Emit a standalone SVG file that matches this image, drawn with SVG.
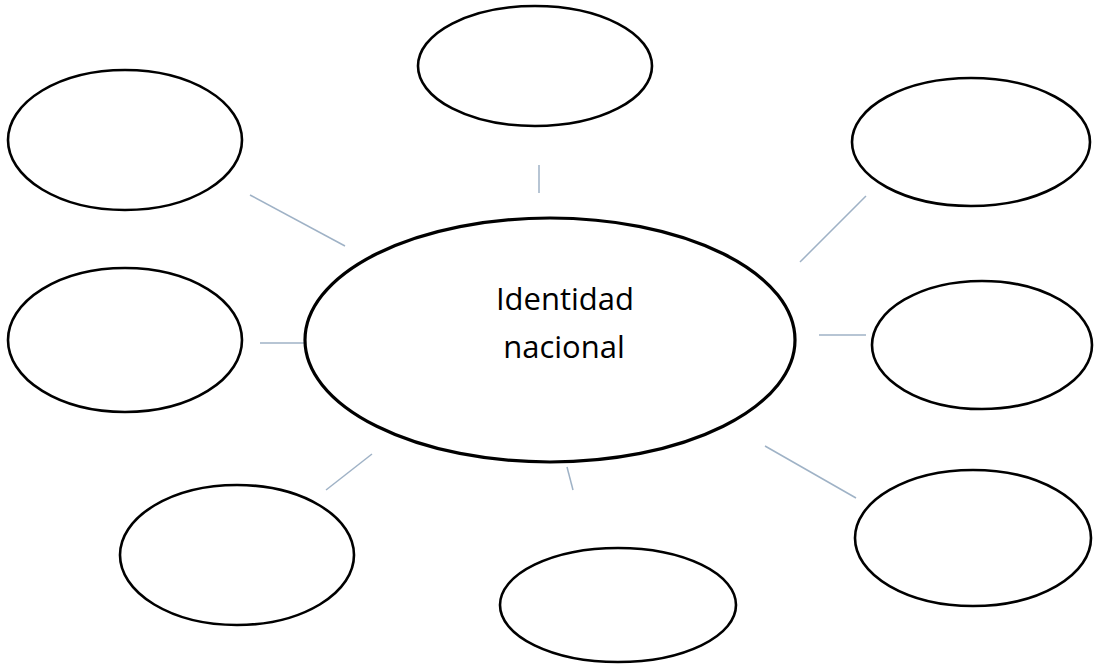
<svg xmlns="http://www.w3.org/2000/svg" width="1100" height="665" viewBox="0 0 1100 665">
<style>
.n{fill:#fff;stroke:#000;stroke-width:2.6}
.c{fill:#fff;stroke:#000;stroke-width:3.2}
.l{stroke:#9fb2c6;stroke-width:1.5;fill:none}
.t{font-family:"Open Sans","Liberation Sans",sans-serif;font-size:31px;fill:#000;text-anchor:middle}
</style>
<rect width="1100" height="665" fill="#fff"/>
<g id="connectors">
<line class="l" x1="539" y1="165" x2="539" y2="193"/>
<line class="l" x1="250" y1="195" x2="345" y2="246"/>
<line class="l" x1="866" y1="196" x2="800" y2="262"/>
<line class="l" x1="260" y1="343" x2="306" y2="343"/>
<line class="l" x1="819" y1="335" x2="866" y2="335"/>
<line class="l" x1="372" y1="454" x2="326" y2="490"/>
<line class="l" x1="567" y1="467" x2="573" y2="490"/>
<line class="l" x1="765" y1="446" x2="856" y2="498"/>
</g>
<g id="center">
<ellipse class="c" cx="550" cy="340" rx="245" ry="122"/>
<text class="t" x="565" y="310">Identidad</text>
<text class="t" x="564" y="358">nacional</text>
</g>
<g id="n-top"><ellipse class="n" cx="535" cy="66" rx="117" ry="60"/></g>
<g id="n-topleft"><ellipse class="n" cx="125" cy="140" rx="117" ry="70"/></g>
<g id="n-topright"><ellipse class="n" cx="971" cy="142" rx="119" ry="64"/></g>
<g id="n-left"><ellipse class="n" cx="125" cy="340" rx="117" ry="72"/></g>
<g id="n-right"><ellipse class="n" cx="982" cy="345" rx="110" ry="64"/></g>
<g id="n-bottomleft"><ellipse class="n" cx="237" cy="555" rx="117" ry="70"/></g>
<g id="n-bottom"><ellipse class="n" cx="618" cy="605" rx="118" ry="57"/></g>
<g id="n-bottomright"><ellipse class="n" cx="973" cy="538" rx="118" ry="68"/></g>
</svg>
